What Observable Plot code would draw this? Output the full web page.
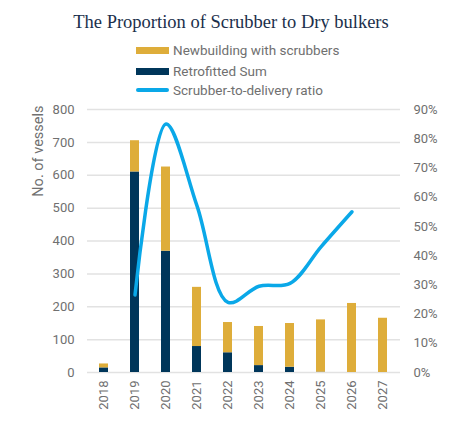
<!DOCTYPE html>
<html>
<head>
<meta charset="utf-8">
<script src="https://cdn.jsdelivr.net/npm/d3@7"></script>
<script src="https://cdn.jsdelivr.net/npm/@observablehq/plot@0.6"></script>
<style>
  html, body { margin: 0; padding: 0; background: #fff; }
  #wrap { position: relative; width: 462px; height: 424px; background: #fff; overflow: hidden; font-family: Roboto, sans-serif; }
  #title { position: absolute; left: 0; top: 12px; width: 462px; text-align: center; font-family: "Liberation Serif", serif; font-size: 18.5px; color: #1b2f4b; }
  .leg { position: absolute; left: 136px; height: 20px; display: flex; align-items: center; font-size: 13.5px; color: #707070; }
  .sw { width: 33px; height: 7px; margin-right: 4px; }
  .ln { width: 33px; height: 4px; border-radius: 2px; margin-right: 4px; }
  #chart { position: absolute; left: 0; top: 100px; }
</style>
</head>
<body>
<div id="wrap">
  <div id="title">The Proportion of Scrubber to Dry bulkers</div>
  <div class="leg" style="top:40px"><div class="sw" style="background:#dead3a"></div>Newbuilding with scrubbers</div>
  <div class="leg" style="top:61px"><div class="sw" style="background:#00365a"></div>Retrofitted Sum</div>
  <div class="leg" style="top:80px"><div class="ln" style="background:#0aa8e8"></div>Scrubber-to-delivery ratio</div>
  <div id="chart"></div>
</div>
<script>
const years = ["2018","2019","2020","2021","2022","2023","2024","2025","2026","2027"];
const retrofitted = [14, 610, 369, 79, 60, 21, 16, 1, 0, 0];
const newbuilding = [12, 95, 256, 180, 92, 119, 133, 159, 210, 165];
const ratioYears = ["2019","2020","2021","2022","2023","2024","2025","2026"];
const ratio = [26.5, 85, 57, 24, 29.5, 30.5, 43, 55];
const leftTicks = [0, 100, 200, 300, 400, 500, 600, 700, 800];
const rightTicks = [0, 10, 20, 30, 40, 50, 60, 70, 80, 90];
const seriesNames = ["Retrofitted Sum", "Newbuilding with scrubbers"];
const seriesColors = ["#00365a", "#dead3a"];

const pctMax = 90, countMax = 800;
const toY = p => p * countMax / pctMax;

const bars = [];
years.forEach((yr, i) => {
  bars.push({year: yr, series: seriesNames[0], value: retrofitted[i]});
  bars.push({year: yr, series: seriesNames[1], value: newbuilding[i]});
});
const line = ratioYears.map((yr, i) => ({year: yr, ratio: ratio[i]}));

const chart = Plot.plot({
  width: 462,
  height: 324,
  marginTop: 9,
  marginBottom: 52,
  marginLeft: 87,
  marginRight: 62,
  style: {fontFamily: "Roboto, sans-serif", fontSize: "13px", color: "#707070", background: "transparent"},
  x: {type: "band", domain: years, paddingInner: 0.7, paddingOuter: 0.35, label: null},
  y: {domain: [0, countMax], label: null},
  color: {domain: seriesNames, range: seriesColors},
  marks: [
    Plot.ruleY(leftTicks, {stroke: "#e2e2e2", strokeWidth: 1.5}),
    Plot.barY(bars, Plot.stackY({x: "year", y: "value", fill: "series", order: seriesNames})),
    Plot.line(line, {x: "year", y: d => toY(d.ratio), curve: "catmull-rom", stroke: "#0aa8e8", strokeWidth: 3.5, strokeLinecap: "round"}),
    Plot.axisY({ticks: leftTicks, tickSize: 0, tickPadding: 13, label: null}),
    Plot.axisY({anchor: "right", ticks: rightTicks.map(toY), tickFormat: v => Math.round(v * pctMax / countMax) + "%", tickSize: 0, tickPadding: 13, label: null}),
    Plot.axisX({tickRotate: -90, tickSize: 0, tickPadding: 8, label: null}),
    Plot.text(["No. of vessels"], {frameAnchor: "top-left", text: d => d, rotate: -90, textAnchor: "end", lineAnchor: "middle", dx: -49, dy: -4, fontSize: 14.5, fill: "#707070"})
  ]
});
document.getElementById("chart").appendChild(chart);
</script>
</body>
</html>
